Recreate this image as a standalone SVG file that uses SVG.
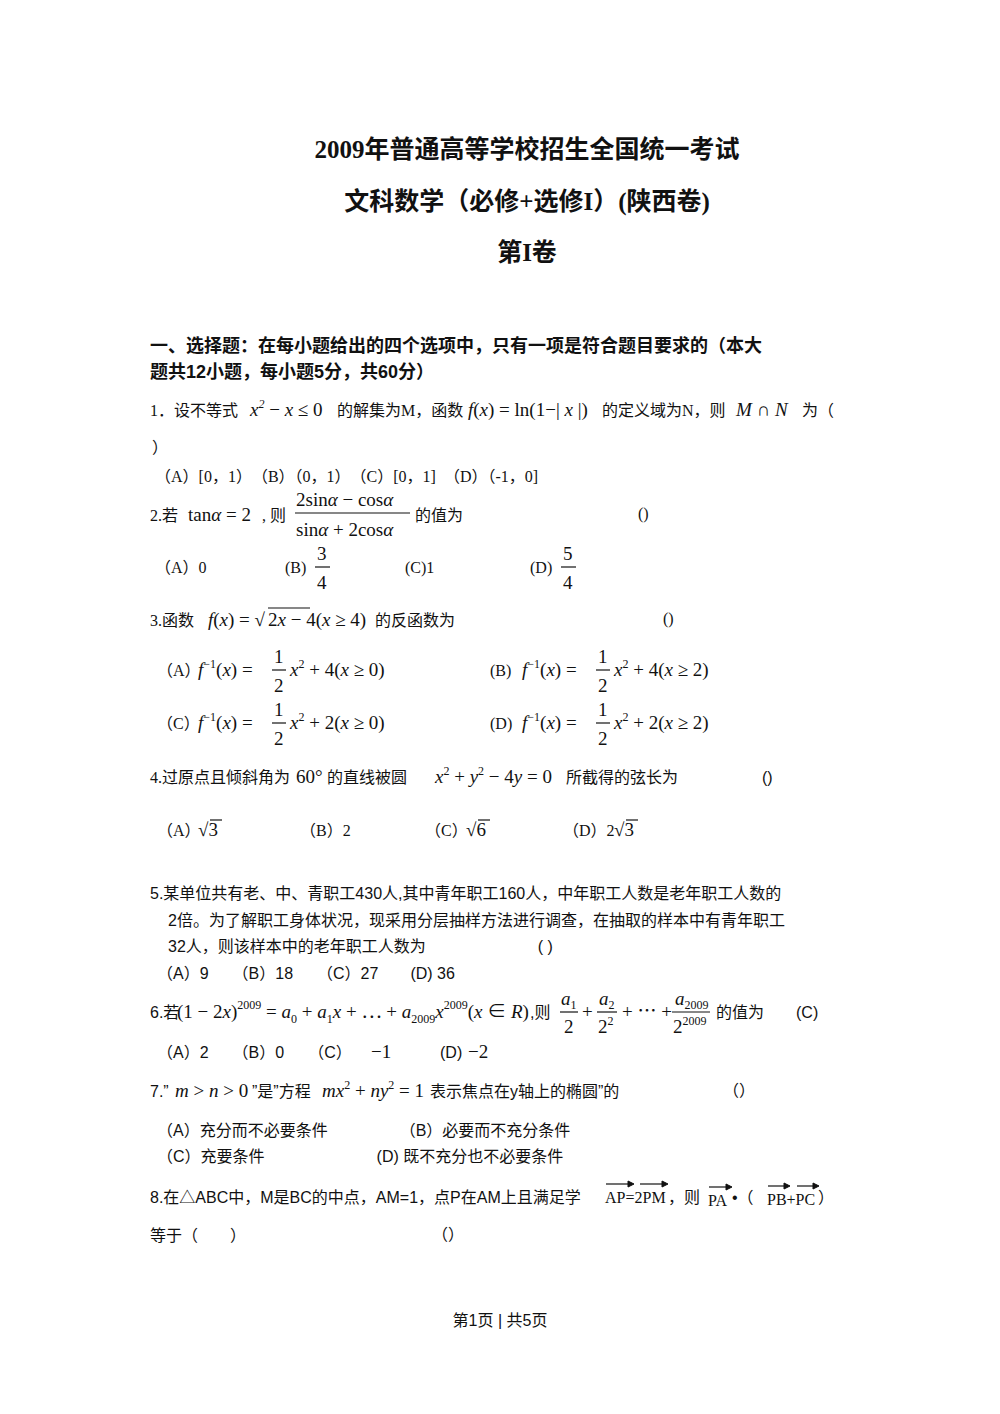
<svg xmlns="http://www.w3.org/2000/svg" width="1000" height="1414" viewBox="0 0 1000 1414">
<style>
text{font-family:"Liberation Serif","Noto Sans CJK SC",serif;fill:#111}
.t{font-size:25px;font-weight:bold;text-anchor:middle}
.h{font-size:18px;font-weight:bold;font-family:"Liberation Sans","Noto Sans CJK SC",sans-serif}
.b{font-size:16px}
.s{font-size:16px;font-family:"Liberation Sans","Noto Sans CJK SC",sans-serif}
.m{font-size:19px;font-style:italic}
.r{font-size:19px}
.sup{font-size:12px}
line{stroke:#111;stroke-width:1.2}
</style>
<rect width="1000" height="1414" fill="#fff"/>
<text class="t" x="527" y="158">2009年普通高等学校招生全国统一考试</text>
<text class="t" x="527" y="210">文科数学（必修+选修I）(陕西卷)</text>
<text class="t" x="527" y="261">第I卷</text>
<text class="h" x="150" y="352">一、选择题：在每小题给出的四个选项中，只有一项是符合题目要求的（本大</text>
<text class="h" x="150" y="378">题共12小题，每小题5分，共60分）</text>

<text class="b" x="150" y="416">1．设不等式</text>
<text class="m" x="250" y="416">x<tspan class="sup" dy="-8">2</tspan><tspan dy="8" font-style="normal"> − </tspan>x<tspan font-style="normal"> ≤ 0</tspan></text>
<text class="b" x="337" y="416">的解集为M，函数</text>
<text class="m" x="468" y="416" font-size="18">f<tspan font-style="normal">(</tspan>x<tspan font-style="normal">) = ln(1−| </tspan>x<tspan font-style="normal"> |)</tspan></text>
<text class="b" x="602" y="416">的定义域为N，则</text>
<text class="m" x="736" y="416">M <tspan font-style="normal">∩</tspan> N</text>
<text class="b" x="802" y="416">为（</text>
<text class="b" x="152" y="453">）</text>
<text class="b" x="155" y="482">（A）[0，1）　（B）（0，1）　（C）[0，1]　（D）（-1，0]</text>

<text class="b" x="150" y="521">2.若</text>
<text class="r" x="188" y="521">tan<tspan font-style="italic">α</tspan> = 2</text>
<text class="b" x="262" y="521">, 则</text>
<text class="r" x="296" y="506">2sin<tspan font-style="italic">α</tspan> − cos<tspan font-style="italic">α</tspan></text>
<line x1="295" y1="513" x2="410" y2="513"/>
<text class="r" x="296" y="536">sin<tspan font-style="italic">α</tspan> + 2cos<tspan font-style="italic">α</tspan></text>
<text class="b" x="415" y="521">的值为</text>
<text class="b" x="638" y="519">()</text>
<text class="b" x="155" y="573">（A）0</text>
<text class="b" x="285" y="573">(B)</text>
<text class="r" x="317" y="560">3</text><line x1="315" y1="567" x2="330" y2="567"/><text class="r" x="317" y="589">4</text>
<text class="b" x="405" y="573">(C)1</text>
<text class="b" x="530" y="573">(D)</text>
<text class="r" x="563" y="560">5</text><line x1="561" y1="567" x2="576" y2="567"/><text class="r" x="563" y="589">4</text>

<text class="b" x="150" y="626">3.函数</text>
<text class="m" x="208" y="626">f<tspan font-style="normal">(</tspan>x<tspan font-style="normal">) = √</tspan></text>
<line x1="268" y1="608" x2="310" y2="608"/>
<text class="r" x="268" y="626">2<tspan font-style="italic">x</tspan> − 4(<tspan font-style="italic">x</tspan> ≥ 4)</text>
<text class="b" x="375" y="626">的反函数为</text>
<text class="b" x="663" y="624">()</text>

<g>
<text class="b" x="157" y="676">（A）</text>
<text class="m" x="198" y="676">f<tspan class="sup" font-style="normal" dy="-8">−1</tspan><tspan dy="8" font-style="normal">(</tspan>x<tspan font-style="normal">) =</tspan></text>
<text class="r" x="274" y="663">1</text><line x1="272" y1="670" x2="286" y2="670"/><text class="r" x="274" y="692">2</text>
<text class="m" x="290" y="676">x<tspan class="sup" font-style="normal" dy="-8">2</tspan><tspan dy="8" font-style="normal"> + 4(</tspan>x<tspan font-style="normal"> ≥ 0)</tspan></text>
<text class="b" x="490" y="676">(B)</text>
<text class="m" x="522" y="676">f<tspan class="sup" font-style="normal" dy="-8">−1</tspan><tspan dy="8" font-style="normal">(</tspan>x<tspan font-style="normal">) =</tspan></text>
<text class="r" x="598" y="663">1</text><line x1="596" y1="670" x2="610" y2="670"/><text class="r" x="598" y="692">2</text>
<text class="m" x="614" y="676">x<tspan class="sup" font-style="normal" dy="-8">2</tspan><tspan dy="8" font-style="normal"> + 4(</tspan>x<tspan font-style="normal"> ≥ 2)</tspan></text>
</g>
<g>
<text class="b" x="157" y="729">（C）</text>
<text class="m" x="198" y="729">f<tspan class="sup" font-style="normal" dy="-8">−1</tspan><tspan dy="8" font-style="normal">(</tspan>x<tspan font-style="normal">) =</tspan></text>
<text class="r" x="274" y="716">1</text><line x1="272" y1="723" x2="286" y2="723"/><text class="r" x="274" y="745">2</text>
<text class="m" x="290" y="729">x<tspan class="sup" font-style="normal" dy="-8">2</tspan><tspan dy="8" font-style="normal"> + 2(</tspan>x<tspan font-style="normal"> ≥ 0)</tspan></text>
<text class="b" x="490" y="729">(D)</text>
<text class="m" x="522" y="729">f<tspan class="sup" font-style="normal" dy="-8">−1</tspan><tspan dy="8" font-style="normal">(</tspan>x<tspan font-style="normal">) =</tspan></text>
<text class="r" x="598" y="716">1</text><line x1="596" y1="723" x2="610" y2="723"/><text class="r" x="598" y="745">2</text>
<text class="m" x="614" y="729">x<tspan class="sup" font-style="normal" dy="-8">2</tspan><tspan dy="8" font-style="normal"> + 2(</tspan>x<tspan font-style="normal"> ≥ 2)</tspan></text>
</g>

<text class="b" x="150" y="783">4.过原点且倾斜角为</text>
<text class="r" x="296" y="783">60°</text>
<text class="b" x="327" y="783">的直线被圆</text>
<text class="m" x="435" y="783">x<tspan class="sup" font-style="normal" dy="-8">2</tspan><tspan dy="8" font-style="normal"> + </tspan>y<tspan class="sup" font-style="normal" dy="-8">2</tspan><tspan dy="8" font-style="normal"> − 4</tspan>y<tspan font-style="normal"> = 0</tspan></text>
<text class="b" x="566" y="783">所截得的弦长为</text>
<text class="s" x="762" y="783">()</text>
<text class="b" x="157" y="836">（A）</text><text class="r" x="198" y="836">√3</text>
<text class="b" x="300" y="836">（B）2</text>
<text class="b" x="425" y="836">（C）</text><text class="r" x="466" y="836">√6</text>
<text class="b" x="563" y="836">（D）2</text><text class="r" x="614" y="836">√3</text>
<line x1="210" y1="820" x2="222" y2="820"/><line x1="478" y1="820" x2="490" y2="820"/><line x1="626" y1="820" x2="638" y2="820"/>

<text class="s" x="150" y="899">5.某单位共有老、中、青职工430人,其中青年职工160人，中年职工人数是老年职工人数的</text>
<text class="s" x="168" y="926">2倍。为了解职工身体状况，现采用分层抽样方法进行调查，在抽取的样本中有青年职工</text>
<text class="s" x="168" y="952">32人，则该样本中的老年职工人数为　　　　　　　( )</text>
<text class="s" x="157" y="979">（A）9　　（B）18　　（C）27　　(D) 36</text>

<text class="s" x="150" y="1018">6.若</text>
<text class="r" x="177" y="1018" font-size="16">(1 − 2<tspan font-style="italic">x</tspan>)<tspan class="sup" dy="-9">2009</tspan><tspan dy="9"> = </tspan><tspan font-style="italic">a</tspan><tspan class="sup" dy="5">0</tspan><tspan dy="-5"> + </tspan><tspan font-style="italic">a</tspan><tspan class="sup" dy="5">1</tspan><tspan dy="-5" font-style="italic">x</tspan> + ⋯ + <tspan font-style="italic">a</tspan><tspan class="sup" dy="5">2009</tspan><tspan dy="-5" font-style="italic">x</tspan><tspan class="sup" dy="-9">2009</tspan><tspan dy="9">(</tspan><tspan font-style="italic">x</tspan> ∈ <tspan font-style="italic">R</tspan>)</text>
<text class="s" x="530" y="1018">,则</text>
<text class="m" x="561" y="1005">a<tspan class="sup" font-style="normal" dy="4">1</tspan></text><line x1="560" y1="1012" x2="578" y2="1012"/><text class="r" x="564" y="1033">2</text>
<text class="r" x="582" y="1018">+</text>
<text class="m" x="599" y="1005">a<tspan class="sup" font-style="normal" dy="4">2</tspan></text><line x1="597" y1="1012" x2="617" y2="1012"/><text class="r" x="598" y="1033">2<tspan class="sup" dy="-8">2</tspan></text>
<text class="r" x="622" y="1018">+ ⋯ +</text>
<text class="m" x="675" y="1005">a<tspan class="sup" font-style="normal" dy="4">2009</tspan></text><line x1="672" y1="1012" x2="710" y2="1012"/><text class="r" x="673" y="1033">2<tspan class="sup" dy="-8">2009</tspan></text>
<text class="s" x="716" y="1018">的值为　　(C)</text>
<text class="s" x="157" y="1058">（A）2　　（B）0　　（C）</text><text class="r" x="371" y="1058">−1</text>
<text class="s" x="440" y="1058">(D)</text><text class="r" x="468" y="1058">−2</text>

<text class="s" x="150" y="1097">7.”</text>
<text class="m" x="175" y="1097">m<tspan font-style="normal"> &gt; </tspan>n<tspan font-style="normal"> &gt; 0 </tspan></text>
<text class="s" x="252" y="1097">”是”方程</text>
<text class="m" x="322" y="1097">mx<tspan class="sup" font-style="normal" dy="-8">2</tspan><tspan dy="8" font-style="normal"> + </tspan>ny<tspan class="sup" font-style="normal" dy="-8">2</tspan><tspan dy="8" font-style="normal"> = 1</tspan></text>
<text class="s" x="430" y="1097">表示焦点在y轴上的椭圆”的</text>
<text class="b" x="723" y="1096">（）</text>
<text class="s" x="157" y="1136">（A）充分而不必要条件　　　　　（B）必要而不充分条件</text>
<text class="s" x="157" y="1162">（C）充要条件　　　　　　　(D) 既不充分也不必要条件</text>

<text class="s" x="150" y="1203">8.在△ABC中，M是BC的中点，AM=1，点P在AM上且满足学</text>
<text class="b" x="605" y="1203">AP=2PM</text>
<text class="s" x="668" y="1203">，则</text>
<text class="b" x="708" y="1206">PA</text>
<text class="s" x="732" y="1203">•（</text>
<text class="b" x="767" y="1205">PB+PC</text>
<text class="s" x="818" y="1203">）</text>
<g stroke="#111" stroke-width="1" fill="#111">
<line x1="606" y1="1184" x2="628" y2="1184"/><path d="M628 1181 L634 1184 L628 1187Z"/>
<line x1="640" y1="1184" x2="662" y2="1184"/><path d="M662 1181 L668 1184 L662 1187Z"/>
<line x1="709" y1="1187" x2="726" y2="1187"/><path d="M726 1184 L732 1187 L726 1190Z"/>
<line x1="768" y1="1186" x2="784" y2="1186"/><path d="M784 1183 L790 1186 L784 1189Z"/>
<line x1="797" y1="1186" x2="813" y2="1186"/><path d="M813 1183 L819 1186 L813 1189Z"/>
</g>
<text class="s" x="150" y="1241">等于（　　）</text>
<text class="b" x="432" y="1240">（）</text>

<text class="s" x="500" y="1326" text-anchor="middle" font-size="15">第1页 | 共5页</text>
</svg>
